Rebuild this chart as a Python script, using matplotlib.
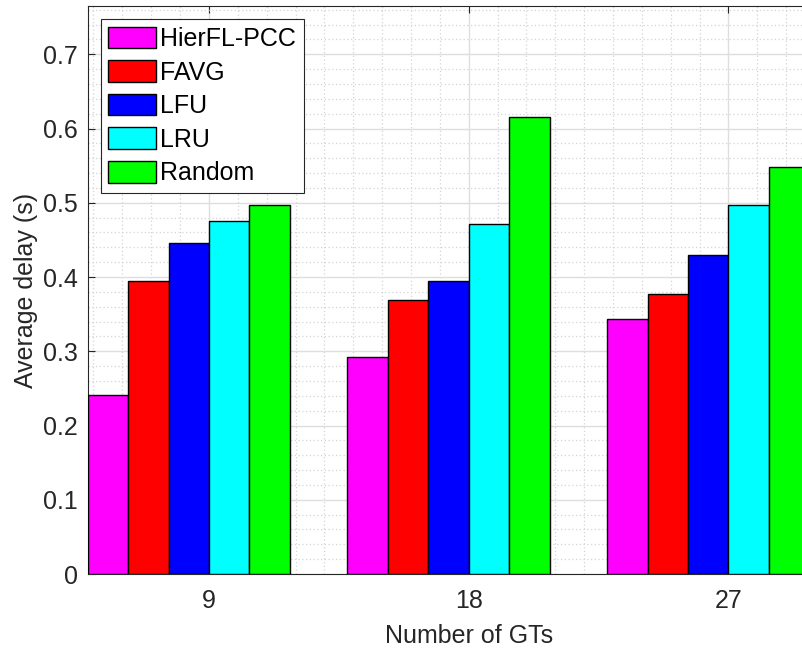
import numpy as np
import matplotlib.pyplot as plt
from matplotlib.ticker import MultipleLocator

# datos
gts = [9, 18, 27]
metodos = ['HierFL-PCC', 'FAVG', 'LFU', 'LRU', 'Random']
hierfl_pcc = [0.241, 0.292, 0.343]
favg = [0.395, 0.369, 0.377]
lfu = [0.446, 0.394, 0.429]
lru = [0.476, 0.471, 0.497]
random_cache = [0.497, 0.615, 0.548]
colores = ['#ff00ff', '#ff0000', '#0000ff', '#00ffff', '#00ff00']

plt.rcParams['font.family'] = ['Liberation Sans', 'DejaVu Sans']

fig = plt.figure(figsize=(8.02, 6.48), dpi=100)
ax = fig.add_axes([87.7 / 802, 74 / 648, 762 / 802, 568 / 648])

series = [hierfl_pcc, favg, lfu, lru, random_cache]
bw = 1.4
x = np.array(gts, dtype=float)
for i, (vals, nombre, c) in enumerate(zip(series, metodos, colores)):
    ax.bar(x + (i - 2.5) * bw, vals, width=bw, color=c, edgecolor='black',
           linewidth=1.0, label=nombre, zorder=3)

ax.set_xlim(4.8, 31.2)
ax.set_ylim(0, 0.765)
ax.set_xticks(gts)
ax.set_yticks(np.arange(0, 0.71, 0.1))
ax.set_yticklabels(['0', '0.1', '0.2', '0.3', '0.4', '0.5', '0.6', '0.7'])
ax.xaxis.set_minor_locator(MultipleLocator(1))
ax.yaxis.set_minor_locator(MultipleLocator(0.02))

# rejilla estilo MATLAB
ax.set_axisbelow(True)
ax.grid(which='major', color='#dedede', linewidth=1.0, linestyle='-')
ax.grid(which='minor', color='#d4d4d4', linewidth=0.9, linestyle=(0, (1, 2)))

ax.tick_params(which='major', direction='in', length=5, width=0.8,
               top=True, right=True, labelsize=18, colors='#262626')
ax.tick_params(axis='y', pad=7)
ax.tick_params(axis='x', pad=11)
ax.tick_params(which='minor', length=0)
for s in ax.spines.values():
    s.set_color('#262626')
    s.set_linewidth(0.8)

ax.set_xlabel('Number of GTs', fontsize=18, color='#262626', labelpad=8)
ax.set_ylabel('Average delay (s)', fontsize=18, color='#262626', labelpad=4)

leg = ax.legend(loc='upper left', fontsize=18, fancybox=False, framealpha=1,
                edgecolor='#262626', handlelength=1.92, handleheight=0.95,
                handletextpad=0.16, labelspacing=0.37, borderpad=0.3,
                borderaxespad=0.52)
leg.get_frame().set_linewidth(0.8)

fig.savefig('out.png', dpi=100)
